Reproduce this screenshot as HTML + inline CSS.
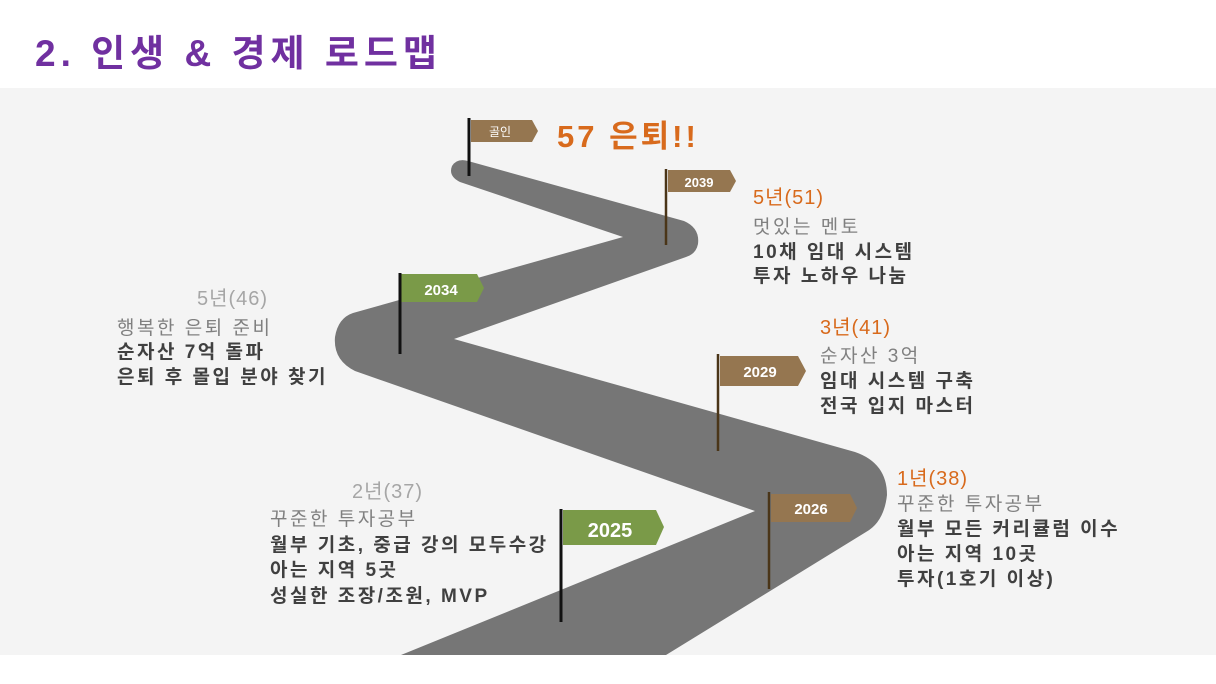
<!DOCTYPE html>
<html><head><meta charset="utf-8"><style>
body{margin:0;width:1216px;height:684px;background:#fff;position:relative;overflow:hidden;font-family:"Liberation Sans","Noto Sans CJK KR",sans-serif}
.t{position:absolute;white-space:nowrap;font-size:19px;line-height:24px;letter-spacing:2.5px}
.g{color:#808080}.b{color:#404040;font-weight:bold}.o{color:#d86a1c;font-size:20px;letter-spacing:1px}.l{color:#a6a6a6;font-size:20px;letter-spacing:1px}
</style></head><body>
<div class="t" style="left:35px;top:30px;font-size:37px;line-height:48px;font-weight:bold;color:#7030a0;letter-spacing:5px">2. 인생 &amp; 경제 로드맵</div>
<div style="position:absolute;left:0;top:88px;width:1216px;height:567px;background:#f4f4f4"></div>
<svg style="position:absolute;left:0;top:0" width="1216" height="684">
<path d="M401,655 L755,511 L355,371 Q333,360 335,337 Q338,318 353,313 L623,237 L460,182 Q448,176 452,166 Q457,158 468,161 L684,221 Q700,228 698,244 Q696,254 686,257 L454,339 L855,452 Q887,463 887,495 Q884,522 866,532 L666,655 Z" fill="#767676"/>
<g font-family="Liberation Sans, Noto Sans CJK KR, sans-serif" font-weight="bold" fill="#fff" text-anchor="middle">
<polygon points="471,120 532,120 538,131 532,142 471,142" fill="#957650"/>
<line x1="469" y1="118" x2="469" y2="176" stroke="#111" stroke-width="3"/>
<text x="500" y="136" font-size="12" font-weight="normal">골인</text>
<polygon points="668,170 730,170 736,181 730,192 668,192" fill="#957650"/>
<line x1="666" y1="169" x2="666" y2="245" stroke="#4a3518" stroke-width="2.5"/>
<text x="699" y="187" font-size="13">2039</text>
<polygon points="401,274 477,274 484,288 477,302 401,302" fill="#7a9a48"/>
<line x1="400" y1="273" x2="400" y2="354" stroke="#111" stroke-width="3"/>
<text x="441" y="295" font-size="15">2034</text>
<polygon points="720,356 798,356 806,371 798,386 720,386" fill="#957650"/>
<line x1="718" y1="354" x2="718" y2="451" stroke="#4a3518" stroke-width="2.5"/>
<text x="760" y="377" font-size="15">2029</text>
<polygon points="771,494 850,494 857,508 850,522 771,522" fill="#957650"/>
<line x1="769" y1="492" x2="769" y2="589" stroke="#4a3518" stroke-width="2.5"/>
<text x="811" y="514" font-size="15">2026</text>
<polygon points="563,510 656,510 664,527 656,545 563,545" fill="#7a9a48"/>
<line x1="561" y1="509" x2="561" y2="622" stroke="#111" stroke-width="3"/>
<text x="610" y="537" font-size="20">2025</text>
</g></svg>
<div class="t" style="left:557px;top:118px;font-size:31px;line-height:38px;font-weight:bold;color:#d86a1c;letter-spacing:3px">57 은퇴!!</div>
<div class="t o" style="left:753px;top:186px">5년(51)</div>
<div class="t g" style="left:753px;top:216px">멋있는 멘토</div>
<div class="t b" style="left:753px;top:241px">10채 임대 시스템</div>
<div class="t b" style="left:753px;top:265px">투자 노하우 나눔</div>
<div class="t o" style="left:820px;top:316px">3년(41)</div>
<div class="t g" style="left:820px;top:345px">순자산 3억</div>
<div class="t b" style="left:820px;top:370px">임대 시스템 구축</div>
<div class="t b" style="left:820px;top:395px">전국 입지 마스터</div>
<div class="t o" style="left:897px;top:467px">1년(38)</div>
<div class="t g" style="left:897px;top:493px">꾸준한 투자공부</div>
<div class="t b" style="left:897px;top:518px">월부 모든 커리큘럼 이수</div>
<div class="t b" style="left:897px;top:543px">아는 지역 10곳</div>
<div class="t b" style="left:897px;top:568px">투자(1호기 이상)</div>
<div class="t l" style="left:197px;top:287px">5년(46)</div>
<div class="t g" style="left:117px;top:317px">행복한 은퇴 준비</div>
<div class="t b" style="left:117px;top:341px">순자산 7억 돌파</div>
<div class="t b" style="left:117px;top:366px">은퇴 후 몰입 분야 찾기</div>
<div class="t l" style="left:352px;top:480px">2년(37)</div>
<div class="t g" style="left:270px;top:508px">꾸준한 투자공부</div>
<div class="t b" style="left:270px;top:534px">월부 기초, 중급 강의 모두수강</div>
<div class="t b" style="left:270px;top:559px">아는 지역 5곳</div>
<div class="t b" style="left:270px;top:585px">성실한 조장/조원, MVP</div>
</body></html>
